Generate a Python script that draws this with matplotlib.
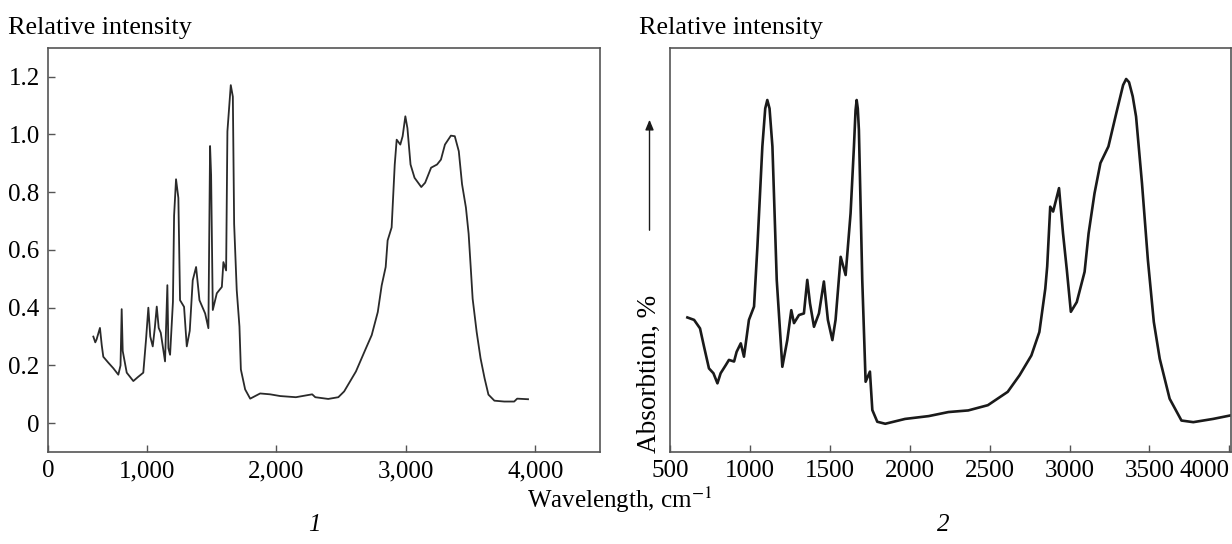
import matplotlib
matplotlib.use('Agg')
import matplotlib.pyplot as plt

plt.rcParams['font.family'] = ['Liberation Serif', 'DejaVu Serif']
plt.rcParams['mathtext.fontset'] = 'stix'

# Panel 1: relative intensity vs wavenumber
wn1 = [585, 600, 610, 636, 650, 662, 700, 740, 778, 795, 804, 812, 843, 894, 930,
       971, 992, 1010, 1025, 1044, 1060, 1075, 1090, 1106, 1139, 1157, 1165, 1178,
       1200, 1209, 1224, 1242, 1255, 1286, 1307, 1330, 1353, 1379, 1405, 1449, 1474,
       1487, 1495, 1508, 1539, 1578, 1590, 1611, 1621, 1647, 1663, 1673, 1693, 1714,
       1725, 1758, 1797, 1874, 1951, 2029, 2150, 2276, 2300, 2400, 2478, 2523, 2614,
       2691, 2736, 2783, 2813, 2844, 2859, 2890, 2914, 2929, 2957, 2975, 2996, 3012,
       3036, 3067, 3119, 3149, 3195, 3241, 3271, 3302, 3348, 3378, 3409, 3434, 3464,
       3485, 3501, 3516, 3547, 3577, 3608, 3638, 3684, 3760, 3837, 3860, 3944]
int1 = [0.30, 0.28, 0.29, 0.33, 0.27, 0.23, 0.21, 0.19, 0.168, 0.20, 0.395, 0.25, 0.175,
        0.146, 0.16, 0.175, 0.289, 0.40, 0.30, 0.266, 0.33, 0.404, 0.33, 0.313, 0.214,
        0.478, 0.26, 0.237, 0.42, 0.719, 0.845, 0.78, 0.426, 0.403, 0.266, 0.32, 0.495,
        0.541, 0.426, 0.38, 0.329, 0.96, 0.86, 0.392, 0.45, 0.472, 0.558, 0.529, 1.011,
        1.171, 1.131, 0.69, 0.461, 0.335, 0.186, 0.117, 0.085, 0.103, 0.10, 0.094, 0.09,
        0.10, 0.09, 0.084, 0.09, 0.11, 0.179, 0.259, 0.305, 0.385, 0.477, 0.541, 0.633,
        0.678, 0.896, 0.982, 0.965, 0.994, 1.063, 1.022, 0.896, 0.85, 0.818, 0.833, 0.885,
        0.896, 0.913, 0.965, 0.996, 0.994, 0.942, 0.828, 0.747, 0.656, 0.541, 0.431,
        0.316, 0.225, 0.156, 0.099, 0.078, 0.075, 0.075, 0.085, 0.083]

# Panel 2: absorption (arbitrary %) vs wavenumber
wn2 = [609, 651, 688, 713, 744, 772, 797, 817, 849, 869, 901, 917, 943, 963, 994, 1026,
       1047, 1078, 1096, 1109, 1123, 1141, 1168, 1203, 1234, 1259, 1276, 1307, 1338,
       1359, 1376, 1401, 1432, 1463, 1488, 1516, 1536, 1568, 1599, 1630, 1651, 1661,
       1668, 1675, 1682, 1703, 1724, 1751, 1766, 1797, 1847, 1971, 2119, 2242, 2366,
       2489, 2613, 2687, 2761, 2811, 2848, 2860, 2879, 2897, 2934, 2959, 2983, 3008,
       3045, 3094, 3119, 3156, 3193, 3243, 3292, 3335, 3354, 3372, 3395, 3416, 3453,
       3490, 3527, 3564, 3626, 3700, 3774, 3898, 4011]
abs2 = [33.3, 32.7, 30.6, 26.1, 20.7, 19.5, 17.0, 19.5, 21.5, 22.8, 22.4, 24.8, 26.9,
        23.6, 32.7, 36.0, 50.8, 75.6, 85.0, 87.1, 85.0, 75.6, 42.6, 21.1, 27.7, 35.1,
        31.9, 33.9, 34.3, 42.6, 36.8, 31.0, 34.3, 42.2, 32.7, 27.7, 32.7, 48.3, 43.8,
        59.1, 75.6, 84.5, 87.1, 85.0, 79.7, 42.6, 17.4, 19.9, 10.4, 7.5, 7.0, 8.2, 8.9,
        9.9, 10.3, 11.6, 14.9, 19.0, 23.9, 29.7, 40.4, 45.9, 60.7, 59.5, 65.3, 54.1,
        45.0, 34.7, 37.1, 44.6, 54.1, 64.0, 71.5, 75.6, 83.8, 90.8, 92.3, 91.5, 88.0,
        83.0, 66.5, 47.5, 32.2, 23.1, 13.2, 7.8, 7.4, 8.2, 9.1]

ticks1 = [235, 1000, 2000, 3000, 4000]
ticklabels1 = ['0', '1,000', '2,000', '3,000', '4,000']
yticks1 = [0, 0.2, 0.4, 0.6, 0.8, 1.0, 1.2]
yticklabels1 = ['0', '0.2', '0.4', '0.6', '0.8', '1.0', '1.2']
ticks2 = [500, 1000, 1500, 2000, 2500, 3000, 3500, 4000]

spine_color = '#555555'
fig = plt.figure(figsize=(12.32, 5.44), dpi=100)

ax1 = fig.add_axes([0.039, 0.169, 0.448, 0.743])
ax1.plot(wn1, int1, color='#2a2a2a', linewidth=1.3)
ax1.set_xlim(235, 4500)
ax1.set_ylim(-0.1, 1.3)
ax1.set_xticks(ticks1)
ax1.set_xticklabels(ticklabels1)
ax1.set_yticks(yticks1)
ax1.set_yticklabels(yticklabels1)

ax2 = fig.add_axes([0.5438, 0.169, 0.4554, 0.743])
ax2.plot(wn2, abs2, color='#1a1a1a', linewidth=1.9, solid_joinstyle='round')
ax2.set_xlim(500, 4010)
ax2.set_ylim(0, 100)
ax2.set_xticks(ticks2)
ax2.set_xticklabels([str(t) for t in ticks2])
ax2.set_yticks([])
ax2.get_xticklabels()[-1].set_horizontalalignment('right')

for ax in (ax1, ax2):
    for s in ax.spines.values():
        s.set_color(spine_color)
        s.set_linewidth(1.2)
    ax.tick_params(direction='in', length=5, width=1, color=spine_color,
                   labelsize=18, pad=6)

fig.text(0.0065, 0.948, 'Relative intensity', fontsize=18.8, va='center', ha='left')
fig.text(0.519, 0.948, 'Relative intensity', fontsize=18.8, va='center', ha='left')
fig.text(0.503, 0.081, 'Wavelength, cm$^{-1}$', fontsize=18, va='center', ha='center')
fig.text(0.5272, 0.313, 'Absorbtion, %', fontsize=19.5, rotation=90, va='center', ha='center')
fig.text(0.255, 0.035, '1', fontsize=18, style='italic', va='center', ha='center')
fig.text(0.766, 0.035, '2', fontsize=18, style='italic', va='center', ha='center')

fig.add_artist(matplotlib.patches.FancyArrowPatch(
    (0.5272, 0.5717), (0.5272, 0.785), transform=fig.transFigure,
    arrowstyle='-|>,head_length=6,head_width=2.5', color='#1a1a1a', linewidth=1))

plt.savefig('out.png', dpi=100)
